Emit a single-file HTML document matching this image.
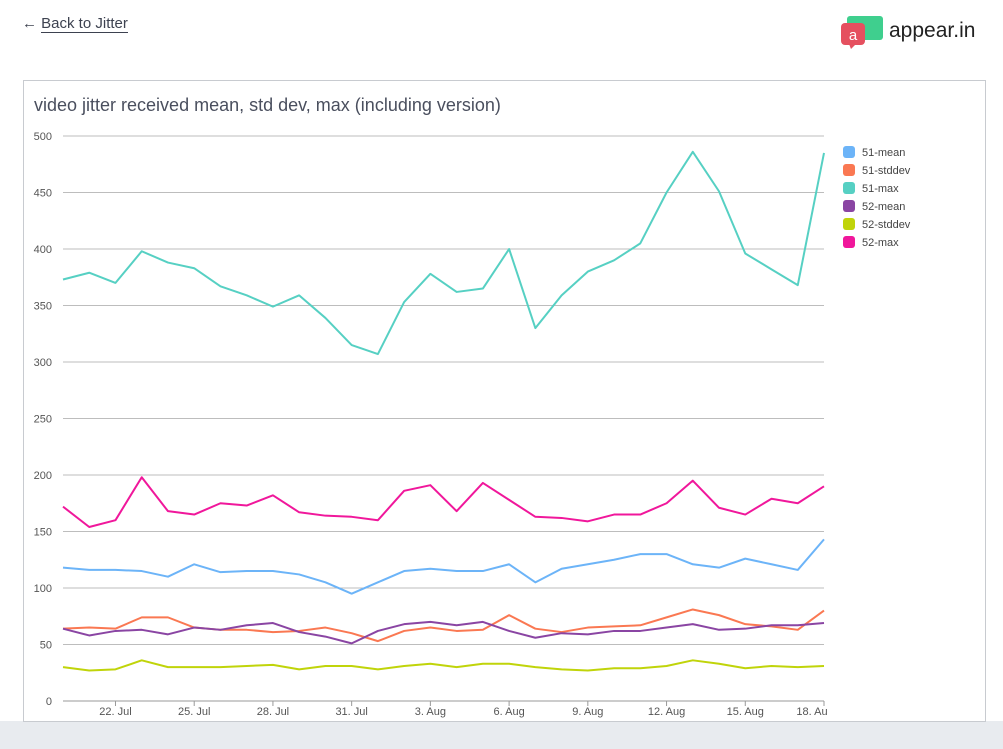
<!DOCTYPE html>
<html><head><meta charset="utf-8"><style>
body{margin:0;width:1003px;height:749px;background:#fff;font-family:"Liberation Sans",sans-serif;overflow:hidden;position:relative}
#bottom{position:absolute;left:0;top:721px;width:1003px;height:28px;background:#e8ebef}
#panel{position:absolute;left:23px;top:80px;width:961px;height:640px;border:1px solid #c8cbd0;background:#fff}
#back{position:absolute;left:22px;top:15px;font-size:15px;color:#3d4250}
#back span{border-bottom:1px solid #3d4250}
#logo{position:absolute;left:841px;top:13px}
</style></head><body>
<div id="bottom"></div>
<div id="back">← <span>Back to Jitter</span></div>
<div id="logo">
<svg width="150" height="38"><rect x="6" y="3" width="36" height="24" rx="3" fill="#3fcf8e"/><rect x="0" y="10" width="24" height="22" rx="4" fill="#e5505f"/><polygon points="8,31 15,31 10,36" fill="#e5505f"/><text x="12" y="27" font-size="15" fill="#fff" text-anchor="middle" font-family="Liberation Sans">a</text><text x="48" y="24" font-size="21" fill="#222" font-family="Liberation Sans">appear.in</text></svg></div>
<div id="panel"></div>
<svg id="chart" width="1003" height="749" style="position:absolute;left:0;top:0"></svg>
<script>
const dates=["20. Jul","21. Jul","22. Jul","23. Jul","24. Jul","25. Jul","26. Jul","27. Jul","28. Jul","29. Jul","30. Jul","31. Jul","1. Aug","2. Aug","3. Aug","4. Aug","5. Aug","6. Aug","7. Aug","8. Aug","9. Aug","10. Aug","11. Aug","12. Aug","13. Aug","14. Aug","15. Aug","16. Aug","17. Aug","18. Au"];
const yTicks=[0,50,100,150,200,250,300,350,400,450,500];
const s51mean=[118,116,116,115,110,121,114,115,115,112,105,95,105,115,117,115,115,121,105,117,121,125,130,130,121,118,126,121,116,143];
const s51std=[64,65,64,74,74,65,63,63,61,62,65,60,53,62,65,62,63,76,64,61,65,66,67,74,81,76,68,66,63,80];
const s51max=[373,379,370,398,388,383,367,359,349,359,339,315,307,353,378,362,365,400,330,359,380,390,405,450,486,451,396,382,368,485];
const s52mean=[64,58,62,63,59,65,63,67,69,61,57,51,62,68,70,67,70,62,56,60,59,62,62,65,68,63,64,67,67,69];
const s52std=[30,27,28,36,30,30,30,31,32,28,31,31,28,31,33,30,33,33,30,28,27,29,29,31,36,33,29,31,30,31];
const s52max=[172,154,160,198,168,165,175,173,182,167,164,163,160,186,191,168,193,178,163,162,159,165,165,175,195,171,165,179,175,190];
const names=["51-mean","51-stddev","51-max","52-mean","52-stddev","52-max"];
const colors=["#6cb4f8","#fa7852","#56d0c3","#8a45a3","#c0d40a","#f0179b"];
const series=[s51mean,s51std,s51max,s52mean,s52std,s52max];
const NS="http://www.w3.org/2000/svg";
const svg=document.getElementById('chart');
const X0=63,X1=824,Y0=701,Y1=136;
const x=i=>X0+i*(X1-X0)/(dates.length-1);
const y=v=>Y0-(v/500)*(Y0-Y1);
function mk(t,a,p){const e=document.createElementNS(NS,t);for(const k in a)e.setAttribute(k,a[k]);(p||svg).appendChild(e);return e;}
const title=mk('text',{x:34,y:111,'font-size':18,fill:'#4a4f5e','font-family':'Liberation Sans'});
title.textContent='video jitter received mean, std dev, max (including version)';


yTicks.forEach(t=>{
 const l=mk('line',{x1:X0,x2:X1,y1:y(t),y2:y(t),stroke:t===0?'#999':'#bdbdbd','stroke-width':1});
 
 
 const tx=mk('text',{x:52,y:y(t)+4,'font-size':11,fill:'#555','text-anchor':'end'});
 tx.textContent=t;
 
 
});
dates.forEach((d,i)=>{
 if(i%3!==2)return;
 mk('line',{x1:x(i),x2:x(i),y1:Y0,y2:Y0+5,stroke:'#999'});
 const tx=mk('text',{x:Math.min(x(i),812),y:Y0+14,'font-size':11,fill:'#555','text-anchor':'middle'});
 tx.textContent=d;
 
 
});
series.forEach((s,k)=>{
 const p=mk('polyline',{points:s.map((v,i)=>x(i)+','+y(v)).join(' '),fill:'none',stroke:colors[k],'stroke-width':2,'stroke-linejoin':'round'});
 
 
 const r=mk('rect',{x:843,y:146+k*18,width:12,height:12,rx:3,fill:colors[k]});
 
 
 const t=mk('text',{x:862,y:156+k*18,'font-size':11,fill:'#444'});
 t.textContent=names[k];
 
 
});
</script>
</body></html>
